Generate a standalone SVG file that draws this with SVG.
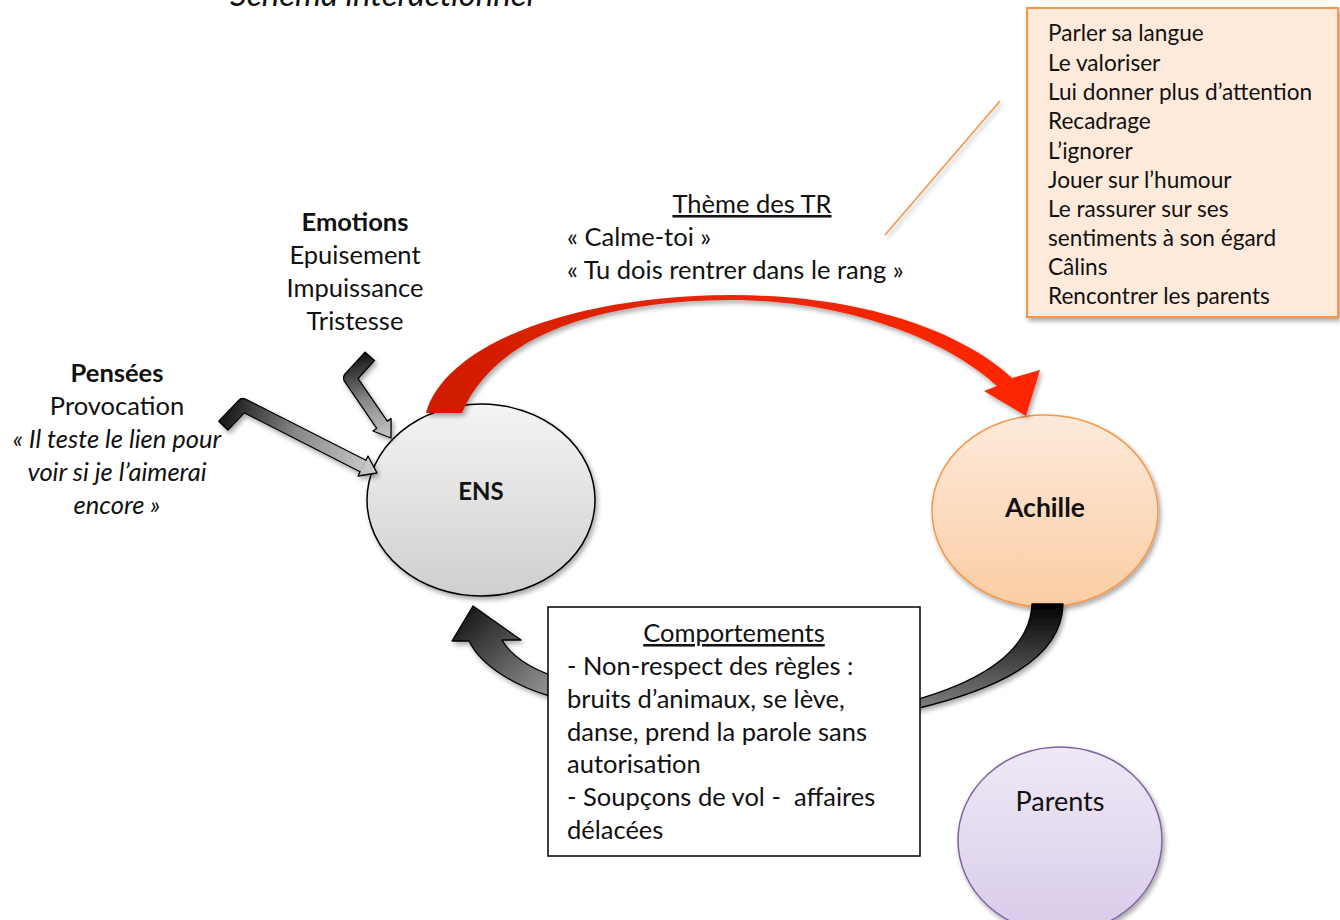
<svg xmlns="http://www.w3.org/2000/svg" width="1340" height="920" viewBox="0 0 1340 920">
<defs>
<style>
text{font-family:Lato,"Open Sans","Liberation Sans",sans-serif;fill:#111;}
.t{font-size:22.6px;}
.l{font-size:25.5px;}
.b{font-weight:bold;}
.i{font-style:italic;}
.u{text-decoration:underline;}
.edge{stroke:#000;stroke-width:1.3;stroke-linejoin:round;}
</style>
<filter id="sh" x="-20%" y="-20%" width="150%" height="150%">
<feGaussianBlur in="SourceAlpha" stdDeviation="2.5"/>
<feOffset dx="2" dy="3" result="b"/>
<feComponentTransfer><feFuncA type="linear" slope="0.35"/></feComponentTransfer>
<feMerge><feMergeNode/><feMergeNode in="SourceGraphic"/></feMerge>
</filter>
<linearGradient id="gEns" x1="0" y1="0" x2="0" y2="1"><stop offset="0" stop-color="#f4f4f4"/><stop offset="1" stop-color="#cfcfcf"/></linearGradient>
<linearGradient id="gAch" x1="0" y1="0" x2="0" y2="1"><stop offset="0" stop-color="#fdeadb"/><stop offset="1" stop-color="#fbcda4"/></linearGradient>
<linearGradient id="gPar" x1="0" y1="0" x2="0" y2="1"><stop offset="0" stop-color="#efe9f6"/><stop offset="1" stop-color="#d8cbea"/></linearGradient>
<linearGradient id="gRed" x1="426" y1="0" x2="1040" y2="0" gradientUnits="userSpaceOnUse"><stop offset="0" stop-color="#cf1c00"/><stop offset="0.5" stop-color="#e8280a"/><stop offset="1" stop-color="#ff2600"/></linearGradient>
<linearGradient id="gBlkR" x1="0" y1="604" x2="0" y2="710" gradientUnits="userSpaceOnUse"><stop offset="0" stop-color="#000"/><stop offset="1" stop-color="#808080"/></linearGradient>
<linearGradient id="gBlkL" x1="473" y1="606" x2="553" y2="697" gradientUnits="userSpaceOnUse"><stop offset="0" stop-color="#1a1a1a"/><stop offset="1" stop-color="#9a9a9a"/></linearGradient>
<linearGradient id="gEmo" x1="369" y1="355" x2="391" y2="438" gradientUnits="userSpaceOnUse"><stop offset="0" stop-color="#1a1a1a"/><stop offset="0.5" stop-color="#888"/><stop offset="1" stop-color="#c8c8c8"/></linearGradient>
<linearGradient id="gPen" x1="222" y1="425" x2="377" y2="473" gradientUnits="userSpaceOnUse"><stop offset="0" stop-color="#1a1a1a"/><stop offset="0.45" stop-color="#888"/><stop offset="1" stop-color="#cfcfcf"/></linearGradient>
<clipPath id="cl"><rect x="1027" y="8" width="311" height="299"/></clipPath>
</defs>

<text x="230" y="6" class="i" style="font-size:33px">Schéma interactionnel</text>

<g id="ENS">
<ellipse cx="481" cy="500" rx="114" ry="96" fill="url(#gEns)" stroke="#000" stroke-width="1.5" filter="url(#sh)"/>
<text x="481" y="500" class="b" text-anchor="middle" style="font-size:24px">ENS</text>
</g>

<g id="Achille">
<ellipse cx="1045" cy="511" rx="113" ry="96" fill="url(#gAch)" stroke="#f79646" stroke-width="1.5" filter="url(#sh)"/>
<text x="1045" y="517" class="b" text-anchor="middle" style="font-size:26.5px">Achille</text>
</g>

<g id="Parents">
<ellipse cx="1060" cy="840" rx="102" ry="93" fill="url(#gPar)" stroke="#8064a2" stroke-width="1.5" filter="url(#sh)"/>
<text x="1060" y="811" text-anchor="middle" style="font-size:27px">Parents</text>
</g>

<g id="connectors">
<path d="M426 413 C445 345 570 296 730 295 C860 295 960 330 1012 378 L1040 370 L1026 416 L984 391 L997 386 C950 342 850 300 730 300 C580 301 490 345 462 413 Z" fill="url(#gRed)" filter="url(#sh)"/>
<path d="M1032 604 C1030 650 985 680 915 700 L915 709 C995 690 1062 660 1063 604 Z" fill="url(#gBlkR)" class="edge" filter="url(#sh)"/>
<path d="M553 697 C520 688 482 668 469 641 L452 641 L473 606 L521 640 L502 640 C512 657 530 668 553 676 Z" fill="url(#gBlkL)" class="edge" filter="url(#sh)"/>
<g filter="url(#sh)">
<path d="M370.2 355.9 L350 378 L382 424.8" fill="none" stroke="#000" stroke-width="14" stroke-linejoin="round"/>
<path d="M369 357 L350 378 L382 424.8" fill="none" stroke="url(#gEmo)" stroke-width="11.5" stroke-linejoin="round"/>
<path d="M387 421.4 L391.1 418.6 L391 438 L372.9 431 L377 428.2 Z" fill="url(#gEmo)" stroke="none"/>
<path d="M387 421.4 L391.1 418.6 L391 438 L372.9 431 L377 428.2" fill="none" class="edge"/>
</g>
<g filter="url(#sh)">
<path d="M222.9 426.1 L243 405 L363 466" fill="none" stroke="#000" stroke-width="14" stroke-linejoin="round"/>
<path d="M224 425 L243 405 L363 466" fill="none" stroke="url(#gPen)" stroke-width="11.5" stroke-linejoin="round"/>
<path d="M365.7 460.7 L368 456 L377 473 L358 476 L360.3 471.3 Z" fill="url(#gPen)" stroke="none"/>
<path d="M365.7 460.7 L368 456 L377 473 L358 476 L360.3 471.3" fill="none" class="edge"/>
</g>
<line x1="1000" y1="101" x2="885" y2="235" stroke="#f79646" stroke-width="1.6" filter="url(#sh)"/>
</g>

<g id="strategies">
<rect x="1027" y="8" width="311" height="309" fill="#fdeadb" stroke="#f79646" stroke-width="2" filter="url(#sh)"/>
<g clip-path="url(#cl)" class="t">
<text x="1048" y="41">Parler sa langue</text>
<text x="1048" y="70.5">Le valoriser</text>
<text x="1048" y="100">Lui donner plus d’attention</text>
<text x="1048" y="129">Recadrage</text>
<text x="1048" y="158.5">L’ignorer</text>
<text x="1048" y="188">Jouer sur l’humour</text>
<text x="1048" y="217">Le rassurer sur ses</text>
<text x="1048" y="245.5">sentiments à son égard</text>
<text x="1048" y="274.5">Câlins</text>
<text x="1048" y="303.5">Rencontrer les parents</text>
</g>
</g>

<g id="theme" class="l">
<text x="752" y="213" text-anchor="middle" class="u">Thème des TR</text>
<text x="567" y="246">« Calme-toi »</text>
<text x="567" y="279">« Tu dois rentrer dans le rang »</text>
</g>

<g id="emotions" class="l" text-anchor="middle">
<text x="355" y="231" class="b">Emotions</text>
<text x="355" y="264">Epuisement</text>
<text x="355" y="297">Impuissance</text>
<text x="355" y="330">Tristesse</text>
</g>

<g id="pensees" class="l" text-anchor="middle">
<text x="117" y="382" class="b">Pensées</text>
<text x="117" y="415">Provocation</text>
<text x="117" y="448" class="i">« Il teste le lien pour</text>
<text x="117" y="481" class="i">voir si je l’aimerai</text>
<text x="117" y="514" class="i">encore »</text>
</g>

<g id="comportements">
<rect x="548" y="607" width="372" height="249" fill="#fff" stroke="#000" stroke-width="1.5"/>
<g class="l">
<text x="734" y="642" text-anchor="middle" class="u">Comportements</text>
<text x="567" y="675">- Non-respect des règles :</text>
<text x="567" y="708">bruits d’animaux, se lève,</text>
<text x="567" y="741">danse, prend la parole sans</text>
<text x="567" y="773">autorisation</text>
<text x="567" y="806" style="white-space:pre">- Soupçons de vol -  affaires</text>
<text x="567" y="839">délacées</text>
</g>
</g>
</svg>
